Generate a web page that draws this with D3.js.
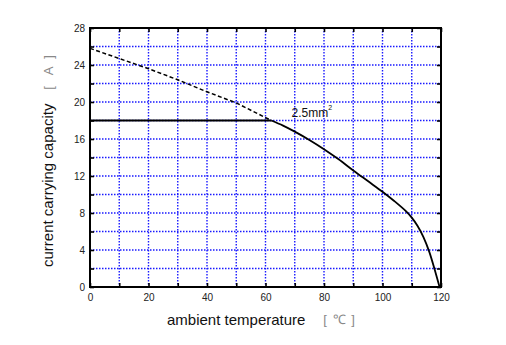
<!DOCTYPE html>
<html>
<head>
<meta charset="utf-8">
<script src="https://cdn.jsdelivr.net/npm/d3@7"></script>
<style>
  html, body { margin: 0; padding: 0; background: #fff; }
  svg { display: block; font-family: "Liberation Sans", Arial, sans-serif; }
</style>
</head>
<body>
<svg id="chart" width="506" height="345"></svg>
<script>
// Ambient temperature (°C) vs. current carrying capacity (A) for a 2.5 mm² conductor
const xTickValues = [0, 20, 40, 60, 80, 100, 120];
const yTickValues = [0, 4, 8, 12, 16, 20, 24, 28];
const xGridValues = [10, 20, 30, 40, 50, 60, 70, 80, 90, 100, 110];
const yGridValues = [2, 4, 6, 8, 10, 12, 14, 16, 18, 20, 22, 24, 26];

// dashed extension above the rated plateau
const dashTemp = [0, 10, 20, 30, 40, 50, 62];
const dashCap  = [25.8, 24.7, 23.6, 22.4, 21.1, 19.9, 18.0];

// rated plateau
const flatTemp = [0, 62];
const flatCap  = [18, 18];

// derating curve
const curveTemp = [62, 66, 70, 75, 80, 85, 90, 95, 100, 104, 108, 110, 112, 114, 116, 118, 119.5];
const curveCap  = [18, 17.45, 16.8, 15.9, 14.9, 13.8, 12.6, 11.45, 10.3, 9.3, 8.2, 7.5, 6.6, 5.4, 3.8, 1.7, 0];

const seriesLabel = "2.5mm";

const svg = d3.select("#chart");
const plotL = 90, plotR = 441, plotT = 28, plotB = 287;

const x = d3.scaleLinear().domain([0, 120]).range([plotL, plotR]);
const y = d3.scaleLinear().domain([0, 28]).range([plotB, plotT]);

// grid
const grid = svg.append("g")
  .attr("stroke", "#1a1aff")
  .attr("stroke-width", 1.4)
  .attr("stroke-dasharray", "1.5,1.5");
grid.selectAll("line.v").data(xGridValues).join("line")
  .attr("class", "v")
  .attr("x1", d => x(d)).attr("x2", d => x(d))
  .attr("y1", plotT).attr("y2", plotB);
grid.selectAll("line.h").data(yGridValues).join("line")
  .attr("class", "h")
  .attr("y1", d => y(d)).attr("y2", d => y(d))
  .attr("x1", plotL).attr("x2", plotR);

// axes with inward ticks
const tickLen = 4;
const xAxisB = d3.axisBottom(x).tickValues(d3.range(0, 121, 10)).tickSize(-tickLen)
  .tickFormat(d => xTickValues.includes(d) ? d : "");
const xAxisT = d3.axisTop(x).tickValues(d3.range(0, 121, 10)).tickSize(-tickLen).tickFormat("");
const yAxisL = d3.axisLeft(y).tickValues(d3.range(0, 29, 2)).tickSize(-tickLen)
  .tickFormat(d => yTickValues.includes(d) ? d : "");
const yAxisR = d3.axisRight(y).tickValues(d3.range(0, 29, 2)).tickSize(-tickLen).tickFormat("");

function styleAxis(g) {
  g.select(".domain").remove();
  g.selectAll(".tick line").attr("stroke", "#000").attr("stroke-width", 1.6);
  g.selectAll(".tick text").attr("font-size", 10).attr("fill", "#222")
    .attr("font-family", "'Liberation Sans', Arial, sans-serif");
}
svg.append("g").attr("transform", `translate(0,${plotB})`).call(xAxisB).call(styleAxis)
  .selectAll(".tick text").attr("dy", "0.71em").attr("y", 7);
svg.append("g").attr("transform", `translate(0,${plotT})`).call(xAxisT).call(styleAxis);
svg.append("g").attr("transform", `translate(${plotL},0)`).call(yAxisL).call(styleAxis)
  .selectAll(".tick text").attr("x", -5);
svg.append("g").attr("transform", `translate(${plotR},0)`).call(yAxisR).call(styleAxis);

// frame
svg.append("rect")
  .attr("x", plotL).attr("y", plotT)
  .attr("width", plotR - plotL).attr("height", plotB - plotT)
  .attr("fill", "none").attr("stroke", "#000").attr("stroke-width", 2);

// lines
const dashLine = d3.line().x((d, i) => x(dashTemp[i])).y(d => y(d));
svg.append("path").datum(dashCap)
  .attr("d", dashLine).attr("fill", "none")
  .attr("stroke", "#000").attr("stroke-width", 1.5).attr("stroke-dasharray", "4,2.5");

const flatLine = d3.line().x((d, i) => x(flatTemp[i])).y(d => y(d));
svg.append("path").datum(flatCap)
  .attr("d", flatLine).attr("fill", "none")
  .attr("stroke", "#000").attr("stroke-width", 1.8);

const derate = d3.line().x((d, i) => x(curveTemp[i])).y(d => y(d))
  .curve(d3.curveCatmullRom.alpha(0.5));
svg.append("path").datum(curveCap)
  .attr("d", derate).attr("fill", "none")
  .attr("stroke", "#000").attr("stroke-width", 1.8);

// series label
const lab = svg.append("text")
  .attr("x", 291.5).attr("y", 117)
  .attr("font-size", 12).attr("fill", "#111");
lab.append("tspan").text(seriesLabel);
lab.append("tspan").attr("font-size", 7).attr("dy", -7).text("2");

// axis titles
svg.append("text")
  .attr("x", 167).attr("y", 325)
  .attr("font-size", 15).attr("fill", "#111")
  .text("ambient temperature");
const unitX = [["[", 325], ["℃", 339], ["]", 353]];
svg.selectAll("text.ux").data(unitX).join("text")
  .attr("class", "ux")
  .attr("x", d => d[1]).attr("y", 324)
  .attr("text-anchor", "middle")
  .attr("font-size", 13).attr("fill", "#888")
  .text(d => d[0]);

const yTitle = svg.append("g").attr("transform", "translate(53,0) rotate(-90)");
yTitle.append("text")
  .attr("x", -267).attr("y", 0)
  .attr("font-size", 15).attr("fill", "#111")
  .text("current carrying capacity");
const unitY = [["[", 88], ["A", 71], ["]", 57]];
yTitle.selectAll("text.uy").data(unitY).join("text")
  .attr("class", "uy")
  .attr("x", d => -d[1]).attr("y", 0)
  .attr("text-anchor", "middle")
  .attr("font-size", 13).attr("fill", "#888")
  .text(d => d[0]);
</script>
</body>
</html>
